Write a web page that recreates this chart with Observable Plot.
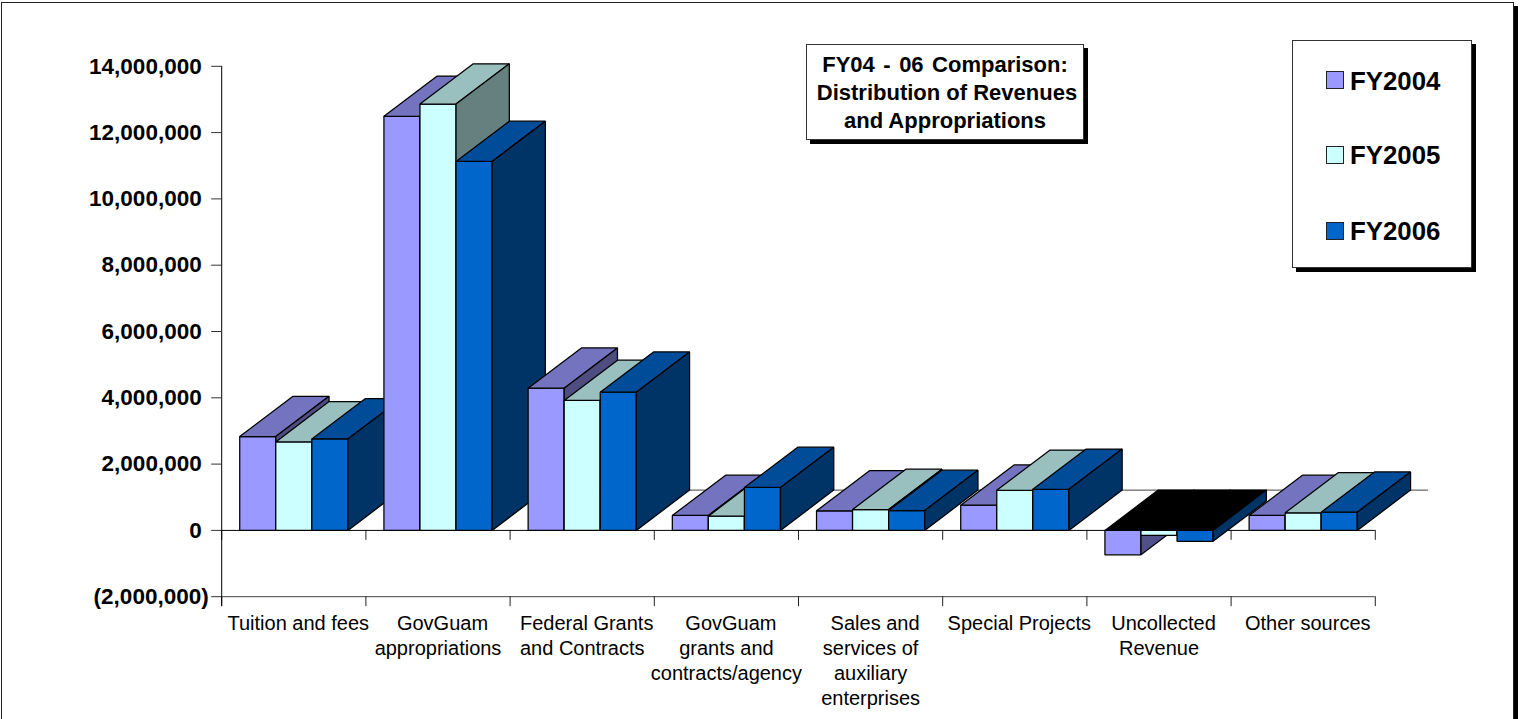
<!DOCTYPE html>
<html>
<head>
<meta charset="utf-8">
<script src="https://cdn.jsdelivr.net/npm/d3@7"></script>
<script src="https://cdn.jsdelivr.net/npm/@observablehq/plot@0.6"></script>
<style>
  html, body { margin: 0; padding: 0; background: #fff; overflow: hidden; }
  body { width: 1523px; height: 719px; position: relative; font-family: "Liberation Sans", Arial, sans-serif; color: #000; }
  #chart { position: absolute; left: 0; top: 0; }
  .frame { position: absolute; left: 1px; top: 2px; width: 1511px; height: 760px; border: 1px solid #222; box-shadow: 4px 4px 0 #000; background: transparent; }
  .box { position: absolute; box-sizing: border-box; background: #fff; border: 1px solid #333; box-shadow: 4px 4px 0 #000; }
  #title { left: 806px; top: 44px; width: 278px; height: 96px; text-align: center; font-weight: bold; font-size: 22px; line-height: 28px; padding-top: 5.5px; }
  #title .l1 { word-spacing: 2.4px; }
  #title .l2 { position: relative; left: 2px; }
  #legend { left: 1292px; top: 40px; width: 180px; height: 228px; }
  .sw { position: absolute; left: 33px; width: 16px; height: 16px; border: 1px solid #222; }
  .lb { position: absolute; left: 57px; font-weight: bold; font-size: 25.8px; line-height: 30px; white-space: nowrap; }
</style>
</head>
<body>
<div class="frame"></div>
<div id="chart"></div>
<div class="box" id="title"><span class="l1">FY04 - 06 Comparison:</span><br><span class="l2">Distribution of Revenues</span><br>and Appropriations</div>
<div class="box" id="legend"></div>
<script>
const categories = [
  "Tuition and fees",
  "GovGuam\nappropriations",
  "Federal Grants\nand Contracts",
  "GovGuam\ngrants and\ncontracts/agency",
  "Sales and\nservices of\nauxiliary\nenterprises",
  "Special Projects",
  "Uncollected\nRevenue",
  "Other sources"
];
const seriesNames = ["FY2004", "FY2005", "FY2006"];
const fy2004 = [2830000, 12490000, 4290000, 450000, 590000, 760000, -735000, 450000];
const fy2005 = [2670000, 12860000, 3920000, 430000, 630000, 1210000, -150000, 530000];
const fy2006 = [2760000, 11130000, 4170000, 1295000, 600000, 1240000, -330000, 550000];
const frontColors = ["#9999FF", "#CCFFFF", "#0066CC"];
const topColors = ["#7373BF", "#99BFBF", "#004C99"];
const sideColors = ["#4D4D80", "#668080", "#003366"];
const positiveTicks = [0, 2000000, 4000000, 6000000, 8000000, 10000000, 12000000, 14000000];
const negativeTicks = [-2000000];

// Depth of the 3D extrusion, in data units
const depthX = 0.3696;
const depthY = 1215000;
const barWidth = 0.25;
const barGap = 0.125;

const series = [fy2004, fy2005, fy2006];
const boundaries = d3.range(categories.length + 1);
const faces = [];
function face(id, color, pts) {
  pts.forEach(([x, y]) => faces.push({id, color, x, y}));
}
categories.forEach((c, i) => {
  series.forEach((vals, s) => {
    const v = vals[i];
    const x0 = i + barGap + s * barWidth, x1 = x0 + barWidth;
    const yt = Math.max(0, v), yb = Math.min(0, v);
    const key = `${i}-${s}`;
    face(key + "-front", frontColors[s], [[x0, yb], [x1, yb], [x1, yt], [x0, yt]]);
    face(key + "-top", v < 0 ? "#000000" : topColors[s],
      [[x0, yt], [x1, yt], [x1 + depthX, yt + depthY], [x0 + depthX, yt + depthY]]);
    face(key + "-side", v < 0 && s === 0 ? "#50508A" : sideColors[s],
      [[x1, yb], [x1 + depthX, yb + depthY], [x1 + depthX, yt + depthY], [x1, yt]]);
  });
});

const fmt = d => {
  const s = d3.format(",")(Math.abs(d));
  return d < 0 ? `(${s})` : s;
};
const firstLines = categories.map(c => c.split("\n")[0]);
const restLines = categories.map(c => "\n" + c.split("\n").slice(1).join("\n"));

const labelOptions = {
  x: (d, i) => i + 0.5, y: () => -2000000, text: d => d,
  lineAnchor: "top", lineHeight: 1.25, fontSize: 20, fill: "#000"
};
const axisOptions = {
  anchor: "left", tickFormat: fmt, tickSize: 10, label: null,
  fontSize: 22.5, fontWeight: "bold", stroke: "#333", fill: "#000"
};

const chart = Plot.plot({
  width: 1523,
  height: 719,
  marginLeft: 221.2,
  marginRight: 148.2,
  marginTop: 65.8,
  marginBottom: 122.8,
  style: {background: "transparent", fontFamily: "'Liberation Sans', Arial, sans-serif", overflow: "visible"},
  x: {domain: [0, categories.length], axis: null},
  y: {domain: [-2000000, 14000000], axis: null},
  marks: [
    Plot.ruleY([depthY], {x1: depthX, x2: categories.length + depthX, stroke: "#444", strokeWidth: 1}),
    Plot.ruleY([-2000000], {x1: 0, x2: categories.length, stroke: "#444", strokeWidth: 1}),
    Plot.ruleX(boundaries, {x: d => d, y1: -2000000, y2: -2300000, stroke: "#222", strokeWidth: 1}),
    Plot.ruleX(boundaries, {x: d => d, y1: 0, y2: -300000, stroke: "#222", strokeWidth: 1}),
    Plot.ruleY([0], {x1: 0, x2: categories.length, stroke: "#000", strokeWidth: 1}),
    Plot.ruleX([0], {y1: -2300000, y2: 14000000, stroke: "#000", strokeWidth: 1}),
    Plot.axisY({...axisOptions, ticks: positiveTicks, tickPadding: 10}),
    Plot.axisY({...axisOptions, ticks: negativeTicks, tickPadding: 3}),
    Plot.line(faces, {
      x: "x", y: "y", z: "id", fill: "color", stroke: "#000", strokeWidth: 1.25,
      curve: "linear-closed", strokeLinejoin: "miter"
    }),
    Plot.text(firstLines, {...labelOptions, dx: 4.5, dy: 16}),
    Plot.text(restLines, {...labelOptions, dy: 16})
  ]
});
document.getElementById("chart").appendChild(chart);

const legend = document.getElementById("legend");
const swTops = [30, 105, 181];
const lbTops = [25, 99, 175];
seriesNames.forEach((n, i) => {
  const sw = document.createElement("div");
  sw.className = "sw";
  sw.style.top = swTops[i] + "px";
  sw.style.background = frontColors[i];
  legend.appendChild(sw);
  const lb = document.createElement("div");
  lb.className = "lb";
  lb.style.top = lbTops[i] + "px";
  lb.textContent = n;
  legend.appendChild(lb);
});
</script>
</body>
</html>
